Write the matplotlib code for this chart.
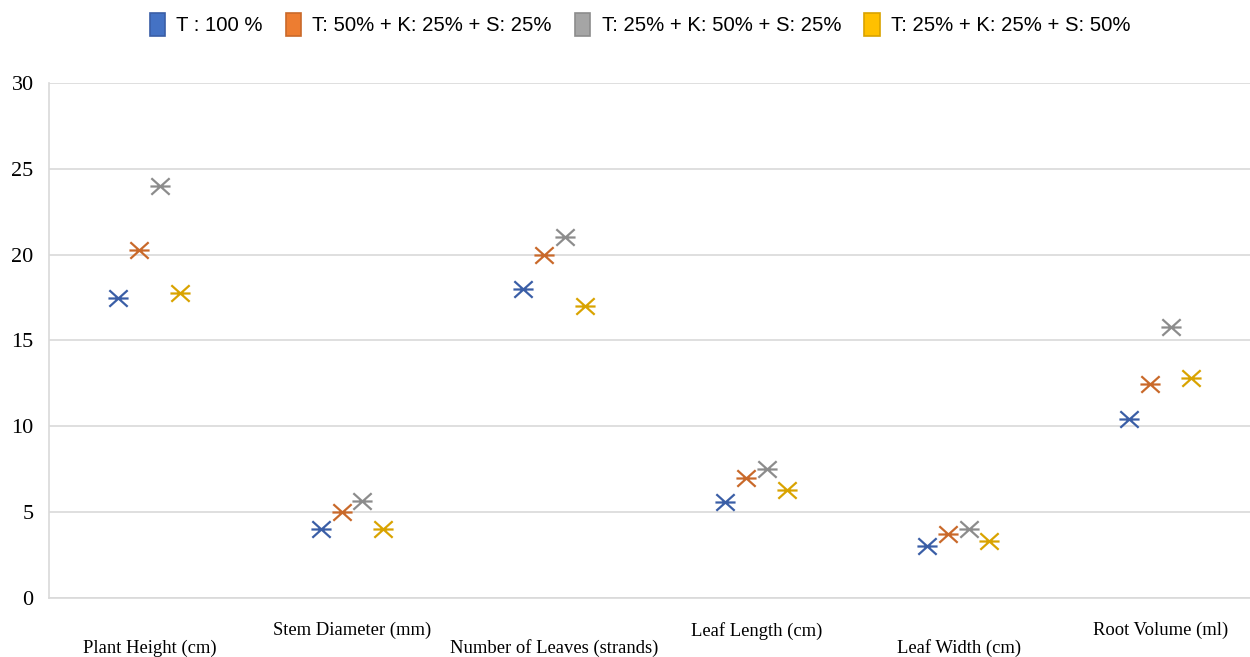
import numpy as np
import matplotlib
matplotlib.use("Agg")
import matplotlib.pyplot as plt
from matplotlib.path import Path
from matplotlib.patches import Patch

categories = ["Plant Height (cm)", "Stem Diameter (mm)", "Number of Leaves (strands)",
              "Leaf Length (cm)", "Leaf Width (cm)", "Root Volume (ml)"]
series_names = ["T : 100 %", "T: 50% + K: 25% + S: 25%",
                "T: 25% + K: 50% + S: 25%", "T: 25% + K: 25% + S: 50%"]
t100 = [17.5, 4.0, 18.0, 5.6, 3.05, 10.4]
t50_k25_s25 = [20.3, 5.0, 20.0, 7.0, 3.7, 12.45]
t25_k50_s25 = [24.0, 5.65, 21.0, 7.5, 4.0, 15.8]
t25_k25_s50 = [17.75, 4.0, 17.0, 6.3, 3.3, 12.8]
values = [t100, t50_k25_s25, t25_k50_s25, t25_k25_s50]

fill_colors = ["#4472C4", "#ED7D31", "#A5A5A5", "#FFC000"]
mark_colors = ["#3A5EA6", "#C9692A", "#8C8C8C", "#D9A300"]
offsets = [-0.157, -0.053, 0.05, 0.15]

# Excel-style star marker: an X with a horizontal bar through it
star = Path([(-1, -0.9), (1, 0.9), (-1, 0.9), (1, -0.9), (-1.1, 0), (1.1, 0)],
            [Path.MOVETO, Path.LINETO, Path.MOVETO, Path.LINETO, Path.MOVETO, Path.LINETO])

fig = plt.figure(figsize=(12.5, 6.57), dpi=100)
# plot area runs a little past the right edge of the figure
ax = fig.add_axes([0.0392, 0.0898, 0.9704, 0.7839])

x = np.arange(len(categories))
for vals, off, col in zip(values, offsets, mark_colors):
    ax.plot(x + off, vals, linestyle="none", marker=star, markersize=14.5,
            markerfacecolor="none", markeredgecolor=col, markeredgewidth=1.6, zorder=3)

ax.set_xlim(-0.5, len(categories) - 0.5)
ax.set_ylim(0, 30)
ax.set_yticks(range(0, 31, 5))
ax.grid(axis="y", color="#D9D9D9", lw=1.2, zorder=0)
ax.set_axisbelow(True)
for s in ["top", "right"]:
    ax.spines[s].set_visible(False)
for s in ["left", "bottom"]:
    ax.spines[s].set_color("#D9D9D9")
    ax.spines[s].set_linewidth(1.2)

ax.tick_params(axis="y", length=0, pad=11, labelsize=16)
for lab in ax.get_yticklabels():
    lab.set_fontfamily("Liberation Serif")

# alternate the category labels on two rows
ax.set_xticks(x)
ax.set_xticklabels([("\n" + c) if i % 2 == 0 else c for i, c in enumerate(categories)],
                   fontsize=13.4, fontfamily="Liberation Serif", linespacing=1.05)
ax.tick_params(axis="x", length=0, pad=17)

handles = [Patch(facecolor=f, edgecolor=m, lw=1.2) for f, m in zip(fill_colors, mark_colors)]
fig.legend(handles, series_names, loc="upper center", bbox_to_anchor=(0.512, 1.008), ncol=4,
           frameon=False, handlelength=0.75, handleheight=1.35, handletextpad=0.55,
           columnspacing=1.15, prop={"family": "Liberation Sans", "size": 14.6})

fig.savefig("out.png", dpi=100)
